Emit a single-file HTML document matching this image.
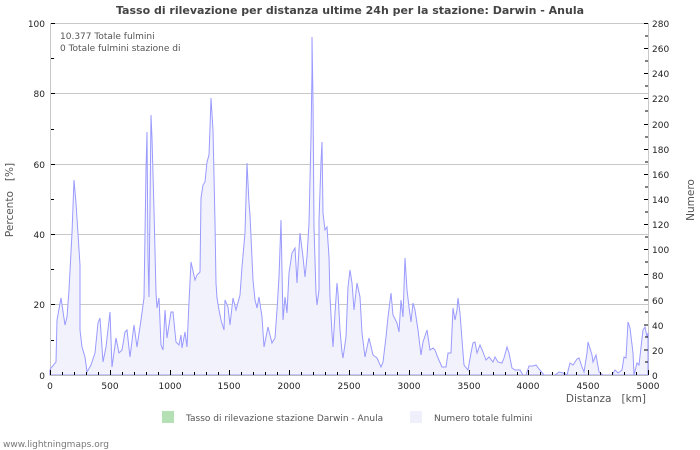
<!DOCTYPE html>
<html><head><meta charset="utf-8"><style>
body{margin:0;background:#fff;width:700px;height:450px;overflow:hidden}
svg{display:block;font-family:"DejaVu Sans","Liberation Sans",sans-serif}
</style></head><body>
<svg width="700" height="450" viewBox="0 0 700 450">
<text x="350" y="14" text-anchor="middle" font-size="11" font-weight="bold" fill="#444">Tasso di rilevazione per distanza ultime 24h per la stazione: Darwin - Anula</text>
<g stroke="#c8c8c8" stroke-width="1">
<line x1="50" y1="23.5" x2="648" y2="23.5"/>
<line x1="50" y1="93.5" x2="648" y2="93.5"/>
<line x1="50" y1="164.5" x2="648" y2="164.5"/>
<line x1="50" y1="234.5" x2="648" y2="234.5"/>
<line x1="50" y1="304.5" x2="648" y2="304.5"/>
<line x1="50.5" y1="23" x2="50.5" y2="375"/>
<line x1="648.5" y1="23" x2="648.5" y2="375"/>
</g>
<path fill="#f2f2fc" stroke="#9a9aff" stroke-width="1" d="M50,375 L50,370 51,368 56,362 57,320 61,298 65,325 67,317 69,290 72,233 74,180 76,203 80,265 80,330 82,347 85,357 87,372 91,365 95,353 98,323 100,318 103,362 106,347 110,312 112,367 116,338 119,353 122,350 125,332 127,330 130,357 134,325 137,347 141,320 144,298 146,170 147,132 148,257 149,297 151,115 152,138 154,210 156,292 157,308 159,298 161,345 163,350 165,310 167,338 171,312 173,312 176,342 179,345 181,335 182,348 185,332 187,347 189,302 191,262 195,280 197,275 200,272 201,198 203,185 205,182 207,162 209,155 210,128 211,98 213,130 215,223 216,283 217,298 219,310 221,320 224,330 225,300 228,307 230,325 233,298 236,310 240,295 242,267 245,233 247,163 249,203 250,215 251,237 253,280 255,300 257,308 259,297 262,317 264,347 268,327 272,343 275,338 277,310 279,277 281,220 282,270 283,320 285,297 287,313 289,273 292,253 295,248 297,283 300,233 303,257 305,277 307,257 309,223 311,137 312,70 312,37 313,100 314,227 316,293 317,305 319,290 319,220 321,162 322,142 323,213 325,230 327,227 329,257 330,297 332,333 333,347 335,313 337,283 338,293 340,330 342,352 343,358 346,337 348,287 350,270 352,283 354,310 357,283 360,297 362,333 365,357 369,338 373,355 377,358 381,367 383,362 386,337 388,317 391,293 393,315 397,323 399,332 401,300 403,317 405,258 407,290 409,307 411,322 413,303 415,310 418,330 421,355 423,342 427,330 430,350 433,348 435,350 438,358 442,367 446,367 448,353 451,353 453,308 455,320 457,310 458,298 460,313 462,340 464,365 468,370 471,353 473,343 475,342 477,353 480,345 483,352 486,360 489,357 493,362 495,357 498,362 502,363 504,358 507,347 509,353 512,368 515,370 520,370 523,375 526,375 529,366 533,366 536,365 539,369 544,375 555,375 559,372 563,373 567,375 570,363 573,365 577,359 579,358 582,367 584,372 587,353 588,342 592,355 593,362 596,355 599,372 603,375 612,375 615,370 618,373 622,370 624,357 626,358 628,322 630,328 633,353 634,375 637,363 639,365 643,330 645,327 647,337 648,333 L648,375 Z"/>
<line x1="50" y1="375.5" x2="648" y2="375.5" stroke="#bbb"/>
<g stroke="#000" stroke-width="1">
<line x1="51" y1="23.5" x2="55" y2="23.5"/><line x1="51" y1="58.5" x2="54" y2="58.5"/>
<line x1="51" y1="93.5" x2="55" y2="93.5"/><line x1="51" y1="129.5" x2="54" y2="129.5"/>
<line x1="51" y1="164.5" x2="55" y2="164.5"/><line x1="51" y1="199.5" x2="54" y2="199.5"/>
<line x1="51" y1="234.5" x2="55" y2="234.5"/><line x1="51" y1="269.5" x2="54" y2="269.5"/>
<line x1="51" y1="304.5" x2="55" y2="304.5"/><line x1="51" y1="340.5" x2="54" y2="340.5"/>
<line x1="644" y1="23.5" x2="648" y2="23.5"/><line x1="645" y1="36" x2="648" y2="36"/>
<line x1="644" y1="48.5" x2="648" y2="48.5"/><line x1="645" y1="61" x2="648" y2="61"/>
<line x1="644" y1="73.5" x2="648" y2="73.5"/><line x1="645" y1="86" x2="648" y2="86"/>
<line x1="644" y1="98.5" x2="648" y2="98.5"/><line x1="645" y1="111" x2="648" y2="111"/>
<line x1="644" y1="124.5" x2="648" y2="124.5"/><line x1="645" y1="137" x2="648" y2="137"/>
<line x1="644" y1="149.5" x2="648" y2="149.5"/><line x1="645" y1="162" x2="648" y2="162"/>
<line x1="644" y1="174.5" x2="648" y2="174.5"/><line x1="645" y1="187" x2="648" y2="187"/>
<line x1="644" y1="199.5" x2="648" y2="199.5"/><line x1="645" y1="212" x2="648" y2="212"/>
<line x1="644" y1="224.5" x2="648" y2="224.5"/><line x1="645" y1="237" x2="648" y2="237"/>
<line x1="644" y1="249.5" x2="648" y2="249.5"/><line x1="645" y1="262" x2="648" y2="262"/>
<line x1="644" y1="274.5" x2="648" y2="274.5"/><line x1="645" y1="287" x2="648" y2="287"/>
<line x1="644" y1="300" x2="648" y2="300"/><line x1="645" y1="312" x2="648" y2="312"/>
<line x1="644" y1="325" x2="648" y2="325"/><line x1="645" y1="337" x2="648" y2="337"/>
<line x1="644" y1="350" x2="648" y2="350"/><line x1="645" y1="362" x2="648" y2="362"/>
</g>
<g stroke="#000" stroke-width="1">
<line x1="50.5" y1="370" x2="50.5" y2="375"/><line x1="62.5" y1="372" x2="62.5" y2="375"/><line x1="74.5" y1="372" x2="74.5" y2="375"/><line x1="86.5" y1="372" x2="86.5" y2="375"/><line x1="98.5" y1="372" x2="98.5" y2="375"/>
<line x1="110.5" y1="370" x2="110.5" y2="375"/><line x1="122.5" y1="372" x2="122.5" y2="375"/><line x1="134.5" y1="372" x2="134.5" y2="375"/><line x1="146.5" y1="372" x2="146.5" y2="375"/><line x1="158.5" y1="372" x2="158.5" y2="375"/>
<line x1="170.5" y1="370" x2="170.5" y2="375"/><line x1="182.5" y1="372" x2="182.5" y2="375"/><line x1="194.5" y1="372" x2="194.5" y2="375"/><line x1="206.5" y1="372" x2="206.5" y2="375"/><line x1="218.5" y1="372" x2="218.5" y2="375"/>
<line x1="229.5" y1="370" x2="229.5" y2="375"/><line x1="241.5" y1="372" x2="241.5" y2="375"/><line x1="253.5" y1="372" x2="253.5" y2="375"/><line x1="265.5" y1="372" x2="265.5" y2="375"/><line x1="277.5" y1="372" x2="277.5" y2="375"/>
<line x1="289.5" y1="370" x2="289.5" y2="375"/><line x1="301.5" y1="372" x2="301.5" y2="375"/><line x1="313.5" y1="372" x2="313.5" y2="375"/><line x1="325.5" y1="372" x2="325.5" y2="375"/><line x1="337.5" y1="372" x2="337.5" y2="375"/>
<line x1="349.5" y1="370" x2="349.5" y2="375"/><line x1="361.5" y1="372" x2="361.5" y2="375"/><line x1="373.5" y1="372" x2="373.5" y2="375"/><line x1="385.5" y1="372" x2="385.5" y2="375"/><line x1="397.5" y1="372" x2="397.5" y2="375"/>
<line x1="409.5" y1="370" x2="409.5" y2="375"/><line x1="421.5" y1="372" x2="421.5" y2="375"/><line x1="433.5" y1="372" x2="433.5" y2="375"/><line x1="445.5" y1="372" x2="445.5" y2="375"/><line x1="457.5" y1="372" x2="457.5" y2="375"/>
<line x1="469.5" y1="370" x2="469.5" y2="375"/><line x1="481.5" y1="372" x2="481.5" y2="375"/><line x1="493.5" y1="372" x2="493.5" y2="375"/><line x1="505.5" y1="372" x2="505.5" y2="375"/><line x1="517.5" y1="372" x2="517.5" y2="375"/>
<line x1="528.5" y1="370" x2="528.5" y2="375"/><line x1="540.5" y1="372" x2="540.5" y2="375"/><line x1="552.5" y1="372" x2="552.5" y2="375"/><line x1="564.5" y1="372" x2="564.5" y2="375"/><line x1="576.5" y1="372" x2="576.5" y2="375"/>
<line x1="588.5" y1="370" x2="588.5" y2="375"/><line x1="600.5" y1="372" x2="600.5" y2="375"/><line x1="612.5" y1="372" x2="612.5" y2="375"/><line x1="624.5" y1="372" x2="624.5" y2="375"/><line x1="636.5" y1="372" x2="636.5" y2="375"/>
<line x1="648.5" y1="370" x2="648.5" y2="375"/>
</g>
<g font-size="9" fill="#222" text-anchor="end">
<text x="45" y="27">100</text><text x="45" y="97">80</text><text x="45" y="168">60</text>
<text x="45" y="238">40</text><text x="45" y="308">20</text><text x="45" y="379">0</text>
</g>
<g font-size="9" fill="#222">
<text x="652" y="27">280</text><text x="652" y="52">260</text><text x="652" y="77">240</text>
<text x="652" y="102">220</text><text x="652" y="128">200</text><text x="652" y="153">180</text>
<text x="652" y="178">160</text><text x="652" y="203">140</text><text x="652" y="228">120</text>
<text x="652" y="253">100</text><text x="652" y="279">80</text><text x="652" y="304">60</text>
<text x="652" y="329">40</text><text x="652" y="354">20</text><text x="652" y="379">0</text>
</g>
<g font-size="9" fill="#222" text-anchor="middle">
<text x="50" y="389">0</text><text x="110" y="389">500</text><text x="170" y="389">1000</text>
<text x="229" y="389">1500</text><text x="289" y="389">2000</text><text x="349" y="389">2500</text>
<text x="409" y="389">3000</text><text x="469" y="389">3500</text><text x="528" y="389">4000</text>
<text x="588" y="389">4500</text><text x="648" y="389">5000</text>
</g>
<text x="646" y="402" text-anchor="end" font-size="10.5" fill="#555">Distanza&#160;&#160;&#160;[km]</text>
<text transform="translate(13,200) rotate(-90)" text-anchor="middle" font-size="10.5" fill="#555">Percento&#160;&#160;&#160;[%]</text>
<text transform="translate(694,200) rotate(-90)" text-anchor="middle" font-size="10.5" fill="#555">Numero</text>
<text x="60" y="39" font-size="9" fill="#555">10.377 Totale fulmini</text>
<text x="60" y="51" font-size="9" fill="#555">0 Totale fulmini stazione di</text>
<rect x="162" y="411" width="12" height="12" fill="#b5e0b5"/>
<text x="186" y="421" font-size="9" fill="#555">Tasso di rilevazione stazione Darwin - Anula</text>
<rect x="410" y="411" width="12" height="12" fill="#f0f0fc"/>
<text x="434" y="421" font-size="9" fill="#555">Numero totale fulmini</text>
<text x="3" y="447" font-size="9" fill="#777">www.lightningmaps.org</text>
</svg>
</body></html>
